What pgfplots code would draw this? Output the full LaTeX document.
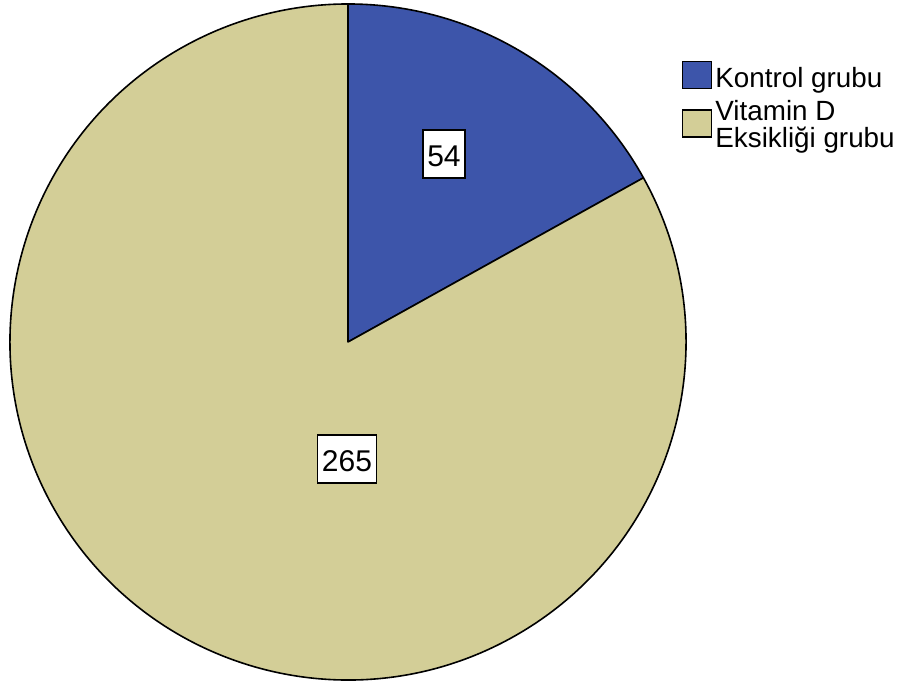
\documentclass[border=0pt]{standalone}
\usepackage{pgfplots}
\usepackage{pgfplotstable}
\pgfplotsset{compat=1.18}
\usepackage{fontspec}
\setmainfont{Liberation Sans}
\definecolor{kontrol}{RGB}{61,85,170}
\definecolor{vitd}{RGB}{211,206,151}
\pgfplotstableread{
group value
Kontrol 54
VitaminD 265
}\piedata
\begin{document}
\begin{tikzpicture}
\pgfplotstablegetelem{0}{value}\of\piedata \let\va\pgfplotsretval
\pgfplotstablegetelem{1}{value}\of\piedata \let\vb\pgfplotsretval
\pgfmathsetmacro{\angA}{90-360/(\va+\vb)*\va}
\pgfmathsetmacro{\cx}{cos(\angA)}
\pgfmathsetmacro{\cy}{sin(\angA)}
\begin{axis}[
  name=pie,
  scale only axis, width=450.5pt, height=341pt,
  xmin=-1.0296, xmax=1.6361, ymin=-1.0059, ymax=1.0118,
  hide axis, clip=false,
  legend style={at={(0.7561,0.9022)}, anchor=north west, draw=none, fill=none,
    font=\fontsize{13.9}{13.35}\selectfont, cells={anchor=west},
    nodes={inner xsep=2pt, inner ysep=0pt, text height=10pt, text depth=3.35pt},
    row sep=0pt, column sep=0pt, inner sep=0pt},
]
\addlegendimage{legend image code/.code={\path[draw=none, fill=none] (0pt,0pt) rectangle (14.9pt,-9.975pt);
  \draw[overlay, fill=kontrol, draw=black, line width=0.8pt] (0.4pt,-4.075pt) rectangle (14.9pt,9.425pt);}}
\addlegendentry{Kontrol grubu}
\addlegendimage{legend image code/.code={\path[draw=none, fill=none] (0pt,0pt) rectangle (14.9pt,0pt);
  \draw[overlay, fill=vitd, draw=black, line width=0.8pt] (0.4pt,-11.775pt) rectangle (14.9pt,1.725pt);}}
\addlegendentry{Vitamin D}
\addlegendimage{legend image code/.code={\path[draw=none, fill=none] (0pt,0pt) rectangle (14.9pt,0pt);}}
\addlegendentry{Eksikliği grubu}
\filldraw[fill=kontrol, line width=0.8pt, line join=round] (axis cs:0,0) -- (axis cs:0,1) arc[start angle=90, end angle=\angA, radius=169pt] -- cycle;
\filldraw[fill=vitd, line width=0.8pt, line join=round] (axis cs:0,0) -- (axis cs:\cx,\cy) arc[start angle=\angA, end angle=-270, radius=169pt] -- cycle;
\node[draw=black, fill=white, line width=0.8pt, inner xsep=2.3pt, inner ysep=2pt, text height=16.3pt, text depth=3.6pt, font=\fontsize{15}{18}\selectfont] at (axis cs:0.284,0.556) {\va};
\node[draw=black, fill=white, line width=0.8pt, inner xsep=2.3pt, inner ysep=2pt, text height=16.3pt, text depth=3.6pt, font=\fontsize{15}{18}\selectfont] at (axis cs:-0.003,-0.346) {\vb};
\end{axis}
\pgfresetboundingbox
\path (pie.south west) rectangle (pie.north east);
\end{tikzpicture}
\end{document}
